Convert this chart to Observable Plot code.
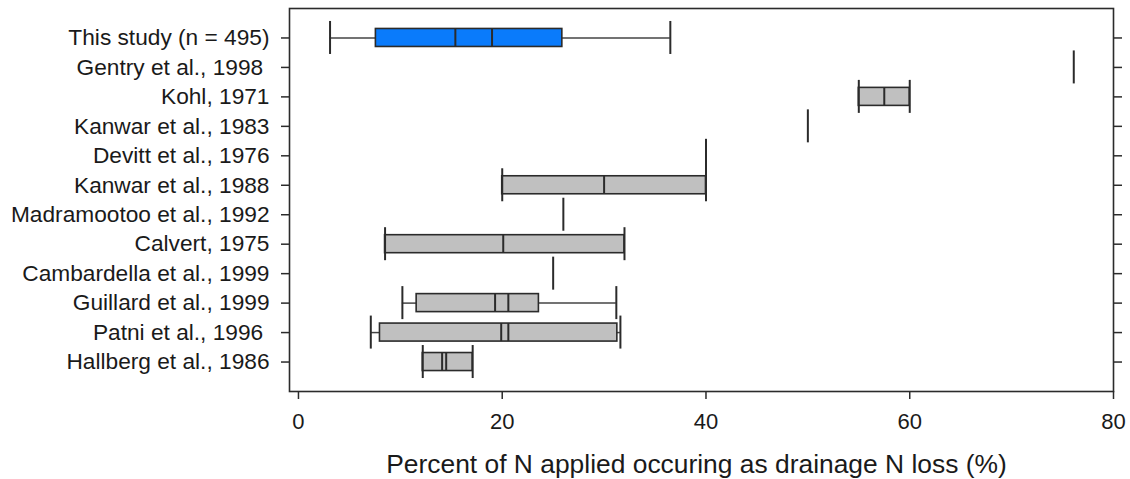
<!DOCTYPE html>
<html><head><meta charset="utf-8">
<script src="https://cdn.jsdelivr.net/npm/d3@7"></script>
<script src="https://cdn.jsdelivr.net/npm/@observablehq/plot@0.6"></script>
<style>
html,body{margin:0;padding:0;background:#fff;}
svg{display:block;}
</style>
</head><body><div id="chart"></div>
<script>
const studies = [
  "This study (n = 495)",
  "Gentry et al., 1998\u00a0",
  "Kohl, 1971",
  "Kanwar et al., 1983",
  "Devitt et al., 1976",
  "Kanwar et al., 1988",
  "Madramootoo et al., 1992",
  "Calvert, 1975",
  "Cambardella et al., 1999",
  "Guillard et al., 1999",
  "Patni et al., 1996\u00a0",
  "Hallberg et al., 1986"
];
const whiskerLow  = [3.1, 76.1, 55.0, 50.0, 40.0, 20.0, 26.0, 8.5, 25.0, 10.2, 7.1, 12.2];
const boxLow      = [7.6, null, 55.0, null, null, 20.0, null, 8.5, null, 11.6, 8.0, 12.2];
const centerA     = [15.4, null, 57.5, null, null, 30.0, null, 20.1, null, 19.3, 19.9, 14.1];
const centerB     = [19.0, null, null, null, null, null, null, null, null, 20.6, 20.6, 14.5];
const boxHigh     = [25.9, null, 60.0, null, null, 40.0, null, 32.0, null, 23.6, 31.3, 17.1];
const whiskerHigh = [36.5, 76.1, 60.0, 50.0, 40.0, 40.0, 26.0, 32.0, 25.0, 31.2, 31.6, 17.1];
const xTicks = [0, 20, 40, 60, 80];
const boxColors = {main: "#0a7bfb", other: "#c0c0c0"};

const rows = studies.map((s, i) => ({
  study: s,
  lo: whiskerLow[i], q1: boxLow[i], a: centerA[i], b: centerB[i], q3: boxHigh[i], hi: whiskerHigh[i],
  kind: i === 0 ? "main" : "other"
}));
const boxes = rows.filter(d => d.q1 != null);
const centers = rows.flatMap(d => [d.a, d.b].filter(v => v != null).map(v => ({study: d.study, v})));
const caps = rows.flatMap(d => (d.lo === d.hi ? [d.lo] : [d.lo, d.hi]).map(v => ({study: d.study, v})));
const whiskers = rows.flatMap(d => {
  const out = [];
  if (d.q1 != null && d.lo < d.q1) out.push({study: d.study, x1: d.lo, x2: d.q1});
  if (d.q3 != null && d.hi > d.q3) out.push({study: d.study, x1: d.q3, x2: d.hi});
  return out;
});

const ink = "#2b2b2b";
const chart = Plot.plot({
  width: 1130,
  height: 479,
  marginLeft: 289,
  marginRight: 17,
  marginTop: 8,
  marginBottom: 88,
  style: {fontFamily: "'Liberation Sans', Arial, sans-serif", background: "#fff", color: ink},
  x: {domain: [-0.88, 80], label: null},
  y: {domain: studies, type: "band", paddingInner: 0.389, paddingOuter: 0.6947, round: false, label: null},
  color: {domain: ["main", "other"], range: [boxColors.main, boxColors.other]},
  marks: [
    Plot.ruleY(whiskers, {y: "study", x1: "x1", x2: "x2", stroke: "#444", strokeWidth: 1.5}),
    Plot.barX(boxes, {y: "study", x1: "q1", x2: "q3", fill: d => d.kind, stroke: ink, strokeWidth: 1.6}),
    Plot.tickX(centers, {y: "study", x: "v", stroke: ink, strokeWidth: 2}),
    Plot.tickX(caps, {y: "study", x: "v", stroke: ink, strokeWidth: 2, insetTop: -7.5, insetBottom: -7.5}),
    Plot.frame({stroke: ink, strokeWidth: 1.6}),
    Plot.axisY({anchor: "left", tickSize: 8, tickPadding: 12, fontSize: 22.7, stroke: ink, strokeWidth: 1.5, fill: "#1a1a1a", label: null}),
    Plot.axisY({anchor: "right", tickSize: 8, tickFormat: () => "", stroke: ink, strokeWidth: 1.5, label: null}),
    Plot.axisX({ticks: xTicks, tickSize: 8, tickPadding: 14, fontSize: 22, stroke: ink, strokeWidth: 1.5, fill: "#1a1a1a", label: null}),
    Plot.text(["Percent of N applied occuring as drainage N loss (%)"], {frameAnchor: "bottom", dx: -5, dy: 81, fontSize: 26.4, fill: "#1a1a1a"})
  ]
});
document.getElementById("chart").appendChild(chart);
</script>
</body></html>
